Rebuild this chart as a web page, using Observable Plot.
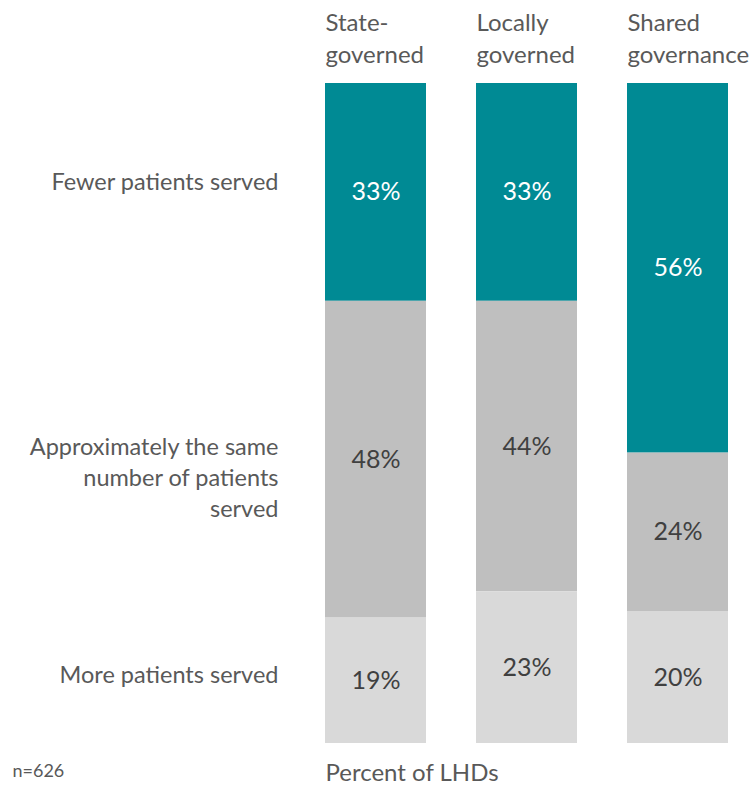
<!DOCTYPE html>
<html>
<head>
<meta charset="utf-8">
<script src="https://cdn.jsdelivr.net/npm/d3@7"></script>
<script src="https://cdn.jsdelivr.net/npm/@observablehq/plot@0.6"></script>
<style>
  html, body { margin: 0; padding: 0; background: #fff; }
  #chart { width: 751px; height: 791px; }
  svg { font-family: Lato, "Open Sans", sans-serif; }
</style>
</head>
<body>
<div id="chart"></div>
<script>
// ---- data ----
const groups = ["State-\ngoverned", "Locally\ngoverned", "Shared\ngovernance"];
const outcomes = ["Fewer patients served", "Approximately the same\nnumber of patients\nserved", "More patients served"];
const fewer = [33, 33, 56];
const same  = [48, 44, 24];
const more  = [19, 23, 20];
const rowLabelY = [14.6, 59.5, 89.3];
const colors = ["#008A94", "#BFBFBF", "#D9D9D9"];
const labelColors = ["#ffffff", "#404040", "#404040"];
const sampleNote = "n=626";
const axisTitle = "Percent of LHDs";

const series = [fewer, same, more];
const data = [];
groups.forEach((g, gi) => {
  outcomes.forEach((o, oi) => {
    data.push({group: g, outcome: o, value: series[oi][gi]});
  });
});
const rows = outcomes.map((o, i) => ({outcome: o, y: rowLabelY[i]}));

const chart = Plot.plot({
  width: 751,
  height: 791,
  marginTop: 83,
  marginBottom: 48,
  marginLeft: 324,
  marginRight: 23,
  style: {fontFamily: "Lato, 'Open Sans', sans-serif", background: "#fff"},
  x: {domain: groups, paddingInner: 0.333, paddingOuter: 0, axis: null},
  y: {domain: [0, 100], reverse: true, axis: null},
  color: {domain: outcomes, range: colors},
  marks: [
    Plot.barY(data, Plot.stackY({
      x: "group", y: "value", fill: "outcome", order: outcomes, inset: 0
    })),
    Plot.text(data, Plot.stackY({
      x: "group", y: "value", order: outcomes,
      text: d => d.value + "%",
      fill: d => labelColors[outcomes.indexOf(d.outcome)],
      fontSize: 25
    })),
    Plot.axisX({
      anchor: "top", label: null, tickSize: 0, tickPadding: 21, fontSize: 24,
      textAnchor: "start", dx: -50.5, fill: "#595959", lineHeight: 1.3
    }),
    Plot.text(rows, {
      y: "y", text: "outcome", frameAnchor: "left", textAnchor: "end",
      dx: -46, fontSize: 23.5, fill: "#595959", lineHeight: 1.3
    }),
    Plot.text([sampleNote], {
      text: d => d, frameAnchor: "bottom-left", textAnchor: "start",
      dx: -312, dy: 33, fontSize: 18, fill: "#595959"
    }),
    Plot.text([axisTitle], {
      text: d => d, frameAnchor: "bottom-left", textAnchor: "start",
      dx: 1, dy: 37, fontSize: 24, fill: "#595959"
    })
  ]
});
document.getElementById("chart").appendChild(chart);
</script>
</body>
</html>
